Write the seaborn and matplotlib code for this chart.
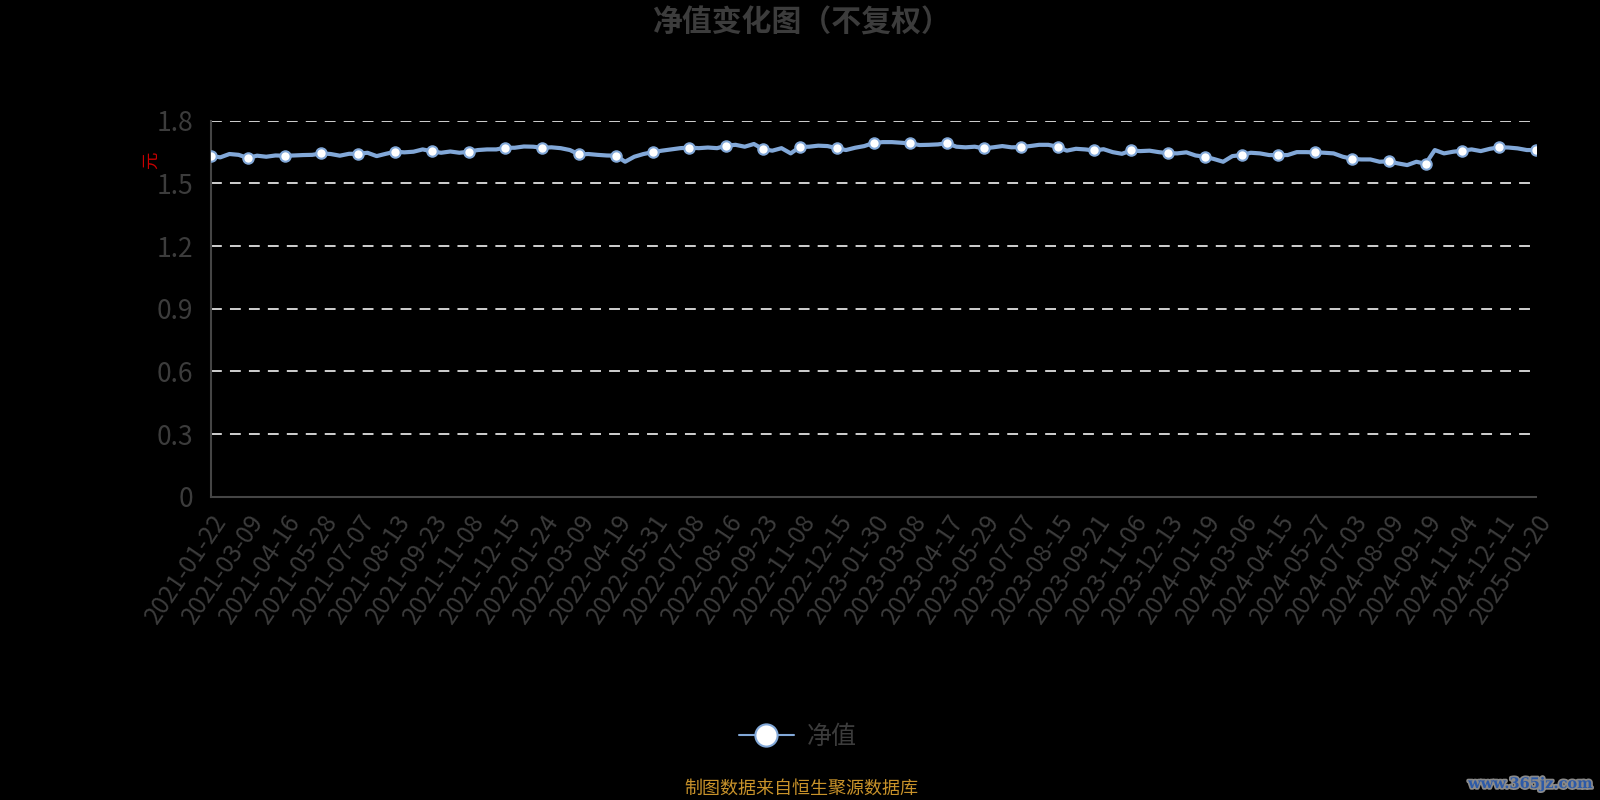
import numpy as np
import pandas as pd
import seaborn as sns
import matplotlib.pyplot as plt
import matplotlib.patheffects as pe
from matplotlib.lines import Line2D

# tick labels (one every 4 samples)
tick_dates = ['2021-01-22', '2021-03-09', '2021-04-16', '2021-05-28', '2021-07-07', '2021-08-13',
              '2021-09-23', '2021-11-08', '2021-12-15', '2022-01-24', '2022-03-09', '2022-04-19',
              '2022-05-31', '2022-07-08', '2022-08-16', '2022-09-23', '2022-11-08', '2022-12-15',
              '2023-01-30', '2023-03-08', '2023-04-17', '2023-05-29', '2023-07-07', '2023-08-15',
              '2023-09-21', '2023-11-06', '2023-12-13', '2024-01-19', '2024-03-06', '2024-04-15',
              '2024-05-27', '2024-07-03', '2024-08-09', '2024-09-19', '2024-11-04', '2024-12-11',
              '2025-01-20']

# net value (labelled date + 3 samples in between)
nav = [1.632, 1.625, 1.641, 1.637,
       1.622, 1.633, 1.628, 1.634,
       1.633, 1.634, 1.636, 1.637,
       1.644, 1.641, 1.633, 1.642,
       1.642, 1.647, 1.631, 1.642,
       1.652, 1.649, 1.652, 1.663,
       1.654, 1.647, 1.653, 1.647,
       1.652, 1.660, 1.663, 1.663,
       1.671, 1.671, 1.677, 1.676,
       1.671, 1.673, 1.669, 1.660,
       1.639, 1.641, 1.637, 1.634,
       1.633, 1.604, 1.628, 1.641,
       1.650, 1.657, 1.663, 1.669,
       1.672, 1.669, 1.672, 1.669,
       1.681, 1.685, 1.676, 1.689,
       1.664, 1.657, 1.669, 1.644,
       1.675, 1.676, 1.681, 1.679,
       1.669, 1.660, 1.671, 1.679,
       1.694, 1.698, 1.698, 1.695,
       1.692, 1.684, 1.685, 1.687,
       1.693, 1.676, 1.673, 1.676,
       1.668, 1.673, 1.679, 1.673,
       1.674, 1.679, 1.685, 1.685,
       1.676, 1.657, 1.666, 1.663,
       1.658, 1.664, 1.650, 1.642,
       1.658, 1.655, 1.657, 1.650,
       1.645, 1.644, 1.649, 1.634,
       1.628, 1.617, 1.604, 1.631,
       1.636, 1.647, 1.644, 1.636,
       1.636, 1.636, 1.650, 1.650,
       1.649, 1.647, 1.644, 1.628,
       1.618, 1.615, 1.615, 1.604,
       1.606, 1.596, 1.588, 1.604,
       1.594, 1.660, 1.644, 1.652,
       1.657, 1.663, 1.655, 1.666,
       1.673, 1.672, 1.668, 1.660,
       1.660]

df = pd.DataFrame({'idx': np.arange(len(nav)), 'nav': nav})

sns.set_style('dark')
plt.rcParams['font.family'] = ['Noto Sans CJK SC', 'DejaVu Sans']
plt.rcParams['axes.unicode_minus'] = False

line_color = '#82a8d8'
text_gray = '#3c3c3c'
axis_gray = '#454545'

fig = plt.figure(figsize=(16, 8), dpi=100, facecolor='black')
ax = fig.add_axes([0.1319, 0.379, 0.8281, 0.470])
ax.set_facecolor('black')

sns.lineplot(data=df, x='idx', y='nav', ax=ax, color=line_color, linewidth=3,
             marker='o', markevery=4, markersize=7.5, markerfacecolor='white',
             markeredgecolor=line_color, markeredgewidth=1.5, zorder=3)

ax.set_xlim(0, len(nav) - 1)
ax.set_ylim(0, 1.8)
ax.set_yticks([0, 0.3, 0.6, 0.9, 1.2, 1.5, 1.8])
ax.set_yticklabels(['0', '0.3', '0.6', '0.9', '1.2', '1.5', '1.8'], color=text_gray, fontsize=19)
ax.set_xticks(np.arange(0, len(nav), 4))
ax.set_xticklabels(tick_dates, rotation=56, ha='right', va='top', rotation_mode='anchor',
                   color=text_gray, fontsize=17.5)
ax.tick_params(axis='both', colors=axis_gray, length=6, width=1.5, labelcolor=text_gray)
ax.tick_params(axis='y', pad=7)
ax.tick_params(axis='x', pad=3)

ax.grid(False)
for v in [0.3, 0.6, 0.9, 1.2, 1.5, 1.8]:
    ax.axhline(v, color='#e0e0e0', linewidth=1.3, linestyle=(0, (6, 4.5)), zorder=1)

for side in ['top', 'right']:
    ax.spines[side].set_visible(False)
for side in ['left', 'bottom']:
    ax.spines[side].set_color(axis_gray)
    ax.spines[side].set_linewidth(1.5)

ax.set_xlabel('')
ax.set_ylabel('')

# unit label
fig.text(0.0945, 0.799, '元', color='#cc0000', fontsize=12.5, rotation=90, ha='center', va='center')

# title
fig.text(0.5015, 0.972, '净值变化图（不复权）', color=text_gray, fontsize=21.5, fontweight='bold',
         ha='center', va='center')

# legend
handle = Line2D([], [], color=line_color, linewidth=1.5, marker='o', markersize=16,
                markerfacecolor='white', markeredgecolor=line_color, markeredgewidth=1.5)
leg = fig.legend([handle], ['净值'], loc='center', bbox_to_anchor=(0.4985, 0.079),
                 frameon=False, fontsize=18, handlelength=2.2, handletextpad=0.5)
for t in leg.get_texts():
    t.set_color(text_gray)

# footer
fig.text(0.5005, 0.014, '制图数据来自恒生聚源数据库', color='#c8922a', fontsize=13,
         ha='center', va='center')

# watermark
fig.text(0.9955, 0.02, 'www.365jz.com', color='#2c5aa8', fontsize=10.5, fontweight='bold',
         family='DejaVu Serif', ha='right', va='center',
         path_effects=[pe.withStroke(linewidth=2.5, foreground='#8a8a8a')])

fig.savefig('out.png', dpi=100, facecolor='black')
